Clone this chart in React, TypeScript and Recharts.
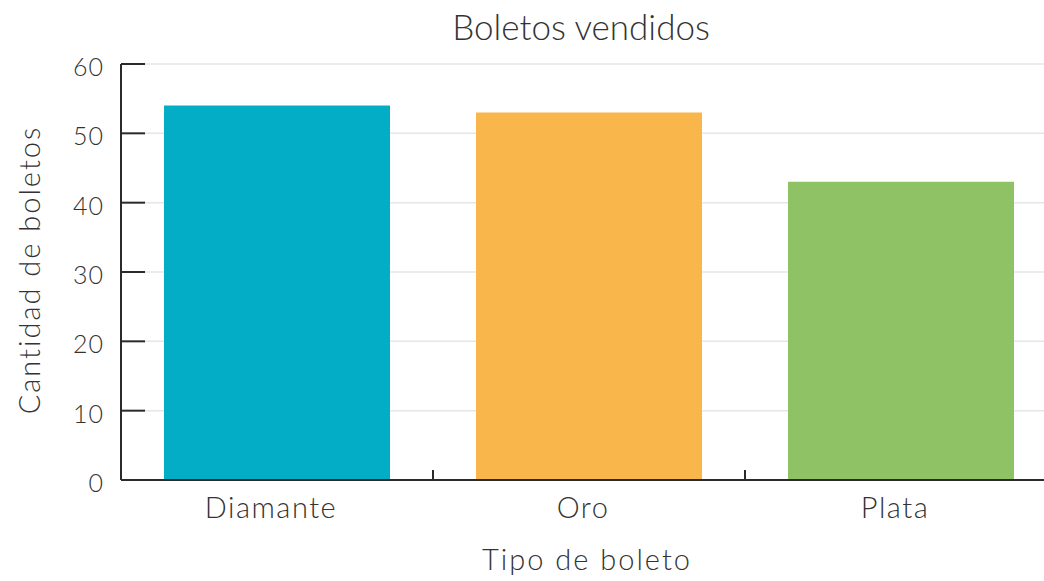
import { BarChart, Bar, XAxis, YAxis, CartesianGrid, Cell } from 'recharts';

const categories = ['Diamante', 'Oro', 'Plata'];
const sold = [54, 53, 43];
const barColors = ['#03ADC5', '#F8B64B', '#8FC265'];
const yTicks = [0, 10, 20, 30, 40, 50, 60];

const chartData = categories.map((name, i) => ({ name, value: sold[i] }));

const FONT = 'Lato, "Open Sans", sans-serif';
const TEXT = '#333333';
const AXIS = '#2b2b2b';

// plot area geometry
const CHART_W = 1060;
const CHART_H = 581;
const LEFT = 121;
const RIGHT = 3;
const PLOT_W = CHART_W - LEFT - RIGHT;
const BAND = PLOT_W / categories.length;

const YTick = ({ x, y, payload }: any) => (
  <g>
    <line x1={x} x2={x + 24} y1={y} y2={y} stroke={AXIS} strokeWidth={2} />
    <text
      x={x - 17}
      y={y}
      dy={12}
      textAnchor="end"
      fill={TEXT}
      fontSize={25}
      fontWeight={300}
      letterSpacing={1}
      fontFamily={FONT}
    >
      {payload.value}
    </text>
  </g>
);

const XTick = ({ x, y, payload, index }: any) => (
  <g>
    {index < categories.length - 1 && (
      <line x1={x + BAND / 2} x2={x + BAND / 2} y1={y - 10} y2={y} stroke={AXIS} strokeWidth={2} />
    )}
    <text
      x={x - 6}
      y={y + 38}
      textAnchor="middle"
      fill={TEXT}
      fontSize={29}
      fontWeight={300}
      letterSpacing={1.5}
      fontFamily={FONT}
    >
      {payload.value}
    </text>
  </g>
);

export default function App() {
  return (
    <div
      style={{
        position: 'absolute',
        left: 0,
        top: 0,
        width: 1044,
        height: 581,
        overflow: 'hidden',
        background: '#fff',
      }}
    >
      <div
        style={{
          position: 'absolute',
          left: 381,
          width: 400,
          top: 9,
          lineHeight: '35px',
          textAlign: 'center',
          fontFamily: FONT,
          fontSize: 35,
          fontWeight: 300,
          color: TEXT,
        }}
      >
        Boletos vendidos
      </div>
      <BarChart
        width={CHART_W}
        height={CHART_H}
        data={chartData}
        margin={{ top: 64, right: RIGHT, left: 0, bottom: 0 }}
      >
        <CartesianGrid vertical={false} stroke="#e6e6e6" strokeWidth={1.5} />
        <XAxis
          dataKey="name"
          height={101}
          tickLine={false}
          tickSize={0}
          tickMargin={0}
          axisLine={{ stroke: AXIS, strokeWidth: 2 }}
          tick={<XTick />}
          interval={0}
          label={({ viewBox }: any) => (
            <text
              x={viewBox.x + viewBox.width / 2 - 2}
              y={viewBox.y + 90}
              textAnchor="middle"
              fill={TEXT}
              fontSize={29}
              fontWeight={300}
              letterSpacing={2}
              fontFamily={FONT}
            >
              Tipo de boleto
            </text>
          )}
        />
        <YAxis
          width={LEFT}
          domain={[0, 60]}
          ticks={yTicks}
          tickLine={false}
          tickSize={0}
          tickMargin={0}
          axisLine={{ stroke: AXIS, strokeWidth: 2 }}
          tick={<YTick />}
          label={({ viewBox }: any) => {
            const cx = viewBox.x + 28;
            const cy = viewBox.y + viewBox.height / 2 - 2;
            return (
              <text
                x={cx}
                y={cy}
                textAnchor="middle"
                dominantBaseline="central"
                transform={`rotate(-90 ${cx} ${cy})`}
                fill={TEXT}
                fontSize={29}
                fontWeight={300}
                letterSpacing={2}
                fontFamily={FONT}
              >
                Cantidad de boletos
              </text>
            );
          }}
        />
        <Bar dataKey="value" barSize={226} isAnimationActive={false}>
          {chartData.map((d, i) => (
            <Cell key={d.name} fill={barColors[i]} />
          ))}
        </Bar>
      </BarChart>
    </div>
  );
}
